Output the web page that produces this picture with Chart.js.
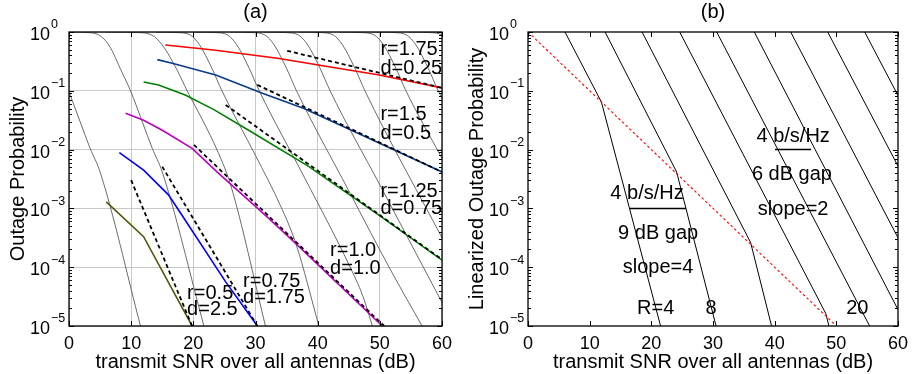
<!DOCTYPE html>
<html>
<head>
<meta charset="utf-8">
<script src="https://cdn.jsdelivr.net/npm/chart.js@4.4.1/dist/chart.umd.min.js"></script>
<style>
  html, body { margin: 0; padding: 0; background: #fff; }
  #wrap { position: relative; width: 915px; height: 374px; }
  canvas { position: absolute; top: 0; }
</style>
</head>
<body>
<div id="wrap">
  <canvas id="chartA" width="460" height="374" style="left:0"></canvas>
  <canvas id="chartB" width="455" height="374" style="left:460px"></canvas>
</div>
<script>
// ---- data (outage values are stored as log10 exponents) ----
const snrTicks = [0, 10, 20, 30, 40, 50, 60];
const decadeTicks = [0, -1, -2, -3, -4, -5];

// (a) fixed-rate outage curves (gray): SNR in dB and log10 outage
const graySnr = [
  [-9.6, -7.1, -5.3, -3.7, -1.6, -0.1, 1.8, 3.4, 5.0, 11.5],
  [0.5, 3.0, 4.8, 6.4, 8.5, 9.9, 11.8, 13.4, 15.0, 21.7],
  [6.0, 11.0, 13.3, 15.0, 17.4, 19.0, 21.5, 24.0, 26.0, 31.6],
  [14.0, 17.5, 19.5, 21.0, 23.0, 24.6, 30.0, 34.0, 36.5, 40.2],
  [20.0, 23.5, 25.5, 27.0, 29.0, 30.6, 38.0, 45.0, 47.3, 48.8],
  [26.0, 29.5, 31.5, 33.0, 35.0, 36.6, 45.0, 52.0, 56.8],
  [31.4, 34.9, 36.9, 38.4, 40.4, 42.0, 50.0, 60.0],
  [37.0, 40.5, 42.5, 44.0, 46.0, 47.6, 60.0],
  [43.6, 47.1, 49.1, 50.6, 52.6, 54.2, 60.0],
  [48.8, 52.3, 54.3, 55.8, 57.8, 59.4, 66.0],
  [54.5, 58.0, 60.0, 61.5, 63.5, 65.1]
];
const grayOut = [
  [0, -0.01, -0.05, -0.22, -0.68, -1.0, -1.53, -1.98, -2.38, -5],
  [0, -0.01, -0.05, -0.22, -0.68, -1.0, -1.53, -1.98, -2.38, -5],
  [0, -0.01, -0.05, -0.22, -0.65, -1.0, -1.5, -2.05, -2.6, -5],
  [0, -0.01, -0.05, -0.22, -0.62, -1.0, -2.1, -2.95, -3.6, -5],
  [0, -0.01, -0.05, -0.22, -0.62, -1.0, -2.5, -3.95, -4.5, -5],
  [0, -0.01, -0.05, -0.22, -0.62, -1.0, -2.7, -4.1, -5],
  [0, -0.01, -0.05, -0.22, -0.62, -1.0, -2.6, -4.6],
  [0, -0.01, -0.05, -0.22, -0.62, -1.0, -3.5],
  [0, -0.01, -0.05, -0.22, -0.62, -1.0, -2.15],
  [0, -0.01, -0.05, -0.22, -0.62, -1.0, -2.3],
  [0, -0.01, -0.05, -0.22, -0.62, -1.0]
];

// (a) outage at rate r*log(SNR)
const snrR050 = [6.0, 12.0, 19.8];
const outR050 = [-2.89, -3.48, -5];
const snrR075 = [8.1, 12.0, 16.0, 18.2, 25.2, 30.3];
const outR075 = [-2.05, -2.35, -2.77, -3.12, -4.25, -5];
const snrR100 = [9.1, 12.0, 15.0, 19.8, 23.8, 31.6, 35.9, 50.4];
const outR100 = [-1.38, -1.5, -1.67, -1.98, -2.38, -3.12, -3.54, -5];
const snrR125 = [12.0, 14.4, 18.7, 23.3, 28.9, 38.6, 49.9, 60];
const outR125 = [-0.85, -0.9, -1.07, -1.32, -1.67, -2.29, -3.12, -3.88];
const snrR150 = [14.2, 16.6, 23.6, 31.1, 37.8, 47.7, 60];
const outR150 = [-0.47, -0.53, -0.73, -1.04, -1.3, -1.78, -2.38];
const snrR175 = [15.5, 23.6, 33.8, 41.8, 49.9, 60];
const outR175 = [-0.22, -0.31, -0.45, -0.59, -0.73, -0.95];

// (a) slope d asymptotes
const asymSnr050 = [10.0, 19.8];  const asymOut050 = [-2.52, -5];
const asymSnr075 = [15.0, 30.3];  const asymOut075 = [-2.29, -5];
const asymSnr100 = [20.1, 50.7];  const asymOut100 = [-1.92, -5];
const asymSnr125 = [25.2, 60];    const asymOut125 = [-1.24, -3.87];
const asymSnr150 = [30.3, 60];    const asymOut150 = [-0.9, -2.38];
const asymSnr175 = [35.1, 60];    const asymOut175 = [-0.32, -0.95];

// (b) linearized outage, R = 4, 8, ..., 36 b/s/Hz
const rates = [4, 8, 12, 16, 20, 24, 28, 32, 36];
const linSnr = [
  [6.0, 11.9, 21.5],
  [12.5, 24.1, 30.5],
  [18.5, 36.1, 39.5],
  [24.6, 48.3, 48.8],
  [30.6, 55.4],
  [36.7, 60],
  [42.6, 60],
  [48.6, 60],
  [54.6, 60]
];
const linOut = [
  [0, -1.19, -5],
  [0, -2.38, -5],
  [0, -3.58, -5],
  [0, -4.79, -5],
  [0, -5],
  [0, -4.72],
  [0, -3.5],
  [0, -2.28],
  [0, -1.08]
];
const kneeSnr = [0, 50];
const kneeOut = [0, -5];
const gapBarSnr1 = [40.05, 45.9];  const gapBarOut1 = [-2, -2];
const gapBarSnr2 = [16.5, 25.6];   const gapBarOut2 = [-3, -3];

// text labels: [text, snr, log10 outage]
const labelsA = [
  ['r=1.75', 50.1, -0.30], ['d=0.25', 50.1, -0.62],
  ['r=1.5', 50.1, -1.40], ['d=0.5', 50.1, -1.72],
  ['r=1.25', 50.1, -2.72], ['d=0.75', 50.1, -3.0],
  ['r=1.0', 42.0, -3.71], ['d=1.0', 42.0, -4.02],
  ['r=0.75', 28.0, -4.24], ['d=1.75', 28.0, -4.52],
  ['r=0.5', 19.0, -4.45], ['d=2.5', 19.0, -4.72]
];
const labelsB = [
  ['4 b/s/Hz', 43.0, -1.77], ['6 dB gap', 42.8, -2.42], ['slope=2', 43.0, -3.01],
  ['4 b/s/Hz', 19.3, -2.74], ['9 dB gap', 21.1, -3.42], ['slope=4', 21.1, -4.0],
  ['R=4', 20.7, -4.70], ['8', 29.7, -4.70], ['20', 53.4, -4.70]
];

// ---- helpers ----
const FONT = '"Liberation Sans", Arial, Helvetica, sans-serif';
Chart.defaults.font.family = FONT;
Chart.defaults.color = '#000';

function pts(xs, ys) {
  return xs.map((x, i) => ({ x: x, y: Math.pow(10, ys[i]) }));
}

function line(xs, ys, color, width, extra) {
  return Object.assign({
    data: pts(xs, ys),
    borderColor: color,
    borderWidth: width,
    showLine: true,
    pointRadius: 0,
    tension: 0,
    fill: false
  }, extra || {});
}

const supers = { '0': '0', '-1': '\u22121', '-2': '\u22122', '-3': '\u22123', '-4': '\u22124', '-5': '\u22125' };

// frame, inward ticks, y labels 10^k and annotations
function framePlugin(labels, align) {
  return {
    id: 'frame',
    afterDatasetsDraw(chart) {
      const ctx = chart.ctx, a = chart.chartArea;
      const x = chart.scales.x, y = chart.scales.y;
      ctx.save();
      ctx.strokeStyle = '#000';
      ctx.lineWidth = 1;
      ctx.beginPath();
      snrTicks.forEach(v => {
        const px = Math.round(x.getPixelForValue(v)) + 0.5;
        ctx.moveTo(px, a.bottom); ctx.lineTo(px, a.bottom - 5);
        ctx.moveTo(px, a.top); ctx.lineTo(px, a.top + 5);
      });
      decadeTicks.forEach(e => {
        const py = Math.round(y.getPixelForValue(Math.pow(10, e))) + 0.5;
        ctx.moveTo(a.left, py); ctx.lineTo(a.left + 5, py);
        ctx.moveTo(a.right, py); ctx.lineTo(a.right - 5, py);
      });
      for (let e = -5; e < 0; e++) {
        for (let m = 2; m <= 9; m++) {
          const py = Math.round(y.getPixelForValue(m * Math.pow(10, e))) + 0.5;
          ctx.moveTo(a.left, py); ctx.lineTo(a.left + 3, py);
          ctx.moveTo(a.right, py); ctx.lineTo(a.right - 3, py);
        }
      }
      ctx.stroke();
      ctx.lineWidth = 1.3;
      ctx.strokeRect(a.left, a.top, a.right - a.left, a.bottom - a.top);

      // y tick labels
      ctx.fillStyle = '#000';
      ctx.textAlign = 'left';
      ctx.textBaseline = 'middle';
      decadeTicks.forEach(e => {
        const py = y.getPixelForValue(Math.pow(10, e));
        ctx.font = '18px ' + FONT;
        ctx.fillText('10', a.left - 39, py + 3);
        ctx.font = '12.5px ' + FONT;
        ctx.fillText(supers[String(e)], a.left - 18, py - 7);
      });

      // annotations
      ctx.font = '20px ' + FONT;
      ctx.textAlign = align;
      labels.forEach(l => {
        ctx.fillText(l[0], x.getPixelForValue(l[1]), y.getPixelForValue(Math.pow(10, l[2])));
      });
      ctx.restore();
    }
  };
}

function baseOptions(title, yTitle, yWidth, yTitlePad, rightPad, grid) {
  return {
    responsive: false,
    animation: false,
    devicePixelRatio: 1,
    layout: { padding: { left: 0, right: rightPad, top: 0, bottom: 0 } },
    plugins: {
      legend: { display: false },
      tooltip: { enabled: false },
      title: {
        display: true, text: title, fullSize: false,
        font: { size: 20, weight: 'normal' }, color: '#000',
        padding: { top: 0, bottom: 8 }
      }
    },
    scales: {
      x: {
        type: 'linear', min: 0, max: 60,
        ticks: { stepSize: 10, font: { size: 18 }, padding: 7, maxRotation: 0 },
        grid: { display: grid, color: '#c8c8c8', drawTicks: false },
        border: { display: false },
        title: {
          display: true, text: 'transmit SNR over all antennas (dB)',
          font: { size: 20 }, padding: { top: 0, bottom: 0 }
        },
        afterFit: s => { s.height = 48; }
      },
      y: {
        type: 'logarithmic', min: 1e-5, max: 1,
        ticks: { display: false },
        afterBuildTicks: s => { s.ticks = decadeTicks.map(e => ({ value: Math.pow(10, e) })); },
        grid: { display: grid, color: '#c8c8c8', drawTicks: false },
        border: { display: false },
        title: {
          display: true, text: yTitle,
          font: { size: 20 }, padding: { top: yTitlePad, bottom: 0 }
        },
        afterFit: s => { s.width = yWidth; }
      }
    }
  };
}

// ---- panel (a) ----
const dashStyle = { borderDash: [4, 3], order: 0 };
const dsA = [];
dsA.push(line(asymSnr050, asymOut050, '#000', 1.8, dashStyle));
dsA.push(line(asymSnr075, asymOut075, '#000', 1.8, dashStyle));
dsA.push(line(asymSnr100, asymOut100, '#000', 1.8, dashStyle));
dsA.push(line(asymSnr125, asymOut125, '#000', 1.8, dashStyle));
dsA.push(line(asymSnr150, asymOut150, '#000', 1.8, dashStyle));
dsA.push(line(asymSnr175, asymOut175, '#000', 1.8, dashStyle));
dsA.push(line(snrR050, outR050, '#55550a', 1.6, { order: 1 }));
dsA.push(line(snrR075, outR075, '#0000ff', 1.6, { order: 1 }));
dsA.push(line(snrR100, outR100, '#bf00bf', 1.6, { order: 1 }));
dsA.push(line(snrR125, outR125, '#008000', 1.6, { order: 1 }));
dsA.push(line(snrR150, outR150, '#0a3a8c', 1.6, { order: 1 }));
dsA.push(line(snrR175, outR175, '#ff0000', 1.6, { order: 1 }));
graySnr.forEach((xs, i) => {
  dsA.push(line(xs, grayOut[i], '#5a5a5a', 0.9, { order: 2, cubicInterpolationMode: 'monotone' }));
});

new Chart(document.getElementById('chartA'), {
  type: 'scatter',
  data: { datasets: dsA },
  options: baseOptions('(a)', 'Outage Probability', 69, 6.5, 18, true),
  plugins: [framePlugin(labelsA, 'left')]
});

// ---- panel (b) ----
const dsB = [];
dsB.push(line(kneeSnr, kneeOut, '#ff0000', 1.1, { borderDash: [2.5, 2.5], order: 0 }));
dsB.push(line(gapBarSnr1, gapBarOut1, '#000', 1.5, { order: 0 }));
dsB.push(line(gapBarSnr2, gapBarOut2, '#000', 1.5, { order: 0 }));
rates.forEach((r, i) => {
  dsB.push(line(linSnr[i], linOut[i], '#000', 1, { order: 1 }));
});

new Chart(document.getElementById('chartB'), {
  type: 'scatter',
  data: { datasets: dsB },
  options: baseOptions('(b)', 'Linearized Outage Probability', 68, 5.5, 14, false),
  plugins: [framePlugin(labelsB, 'center')]
});
</script>
</body>
</html>
